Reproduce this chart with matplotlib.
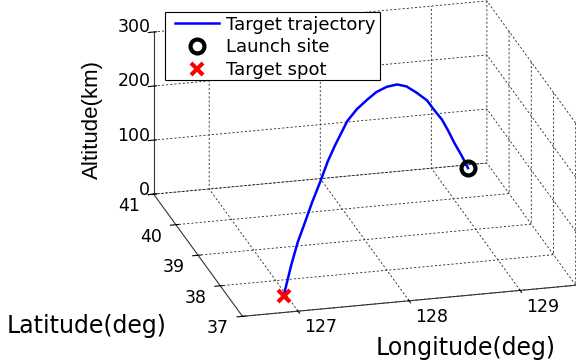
import matplotlib
matplotlib.use("Agg")
import matplotlib.pyplot as plt
from matplotlib.patches import Rectangle
from mpl_toolkits.mplot3d import Axes3D, proj3d

plt.rcParams['font.family'] = ['DejaVu Sans']
plt.rcParams['grid.color'] = '#222222'
plt.rcParams['grid.linestyle'] = (0, (2.5, 2.5))
plt.rcParams['grid.linewidth'] = 0.6

# trajectory samples: longitude (deg), latitude (deg), altitude (km)
traj_lon = [129.31, 129.23, 129.14, 129.06, 128.98, 128.87, 128.79, 128.66, 128.53, 128.41,
            128.28, 128.15, 128.03, 127.90, 127.78, 127.71, 127.62, 127.53, 127.43, 127.33,
            127.24, 127.15, 127.07, 126.97]
traj_lat = [40.90, 40.79, 40.66, 40.53, 40.42, 40.25, 40.14, 39.96, 39.77, 39.59,
            39.40, 39.22, 39.03, 38.85, 38.68, 38.57, 38.44, 38.31, 38.17, 38.02,
            37.89, 37.76, 37.65, 37.50]
traj_alt = [0, 31, 63, 94, 123, 154, 178, 205, 230, 246,
            255, 258, 257, 252, 242, 230, 213, 193, 163, 137,
            109, 82, 48, 0]

launch_site = (129.31, 40.90, 0)
target_spot = (126.97, 37.50, 0)

lon_lim = (126.5, 129.5)
lat_lim = (37, 41)
alt_lim = (0, 300)
lon_ticks = [127, 128, 129]
lat_ticks = [37, 38, 39, 40, 41]
alt_ticks = [0, 100, 200, 300]

fig = plt.figure(figsize=(5.76, 3.63), dpi=100)
ax = fig.add_axes([0.1246, 0.0495, 1.0, 1.0], projection='3d', proj_type='ortho')

h_traj, = ax.plot(traj_lon, traj_lat, traj_alt, color='#0000ff', lw=1.8)
h_launch, = ax.plot([launch_site[0]], [launch_site[1]], [launch_site[2]], 'o', mfc='none',
                    mec='k', mew=3, ms=10)
h_target, = ax.plot([target_spot[0]], [target_spot[1]], [target_spot[2]], 'x', color='#ff0000',
                    mew=3, ms=9)

ax.set_xlim(*lon_lim)
ax.set_ylim(*lat_lim)
ax.set_zlim(*alt_lim)
ax.set_xticks(lon_ticks)
ax.set_yticks(lat_ticks)
ax.set_zticks(alt_ticks)

ax.view_init(elev=21, azim=-104.6)
ax.set_box_aspect((345, 353, 174), zoom=1.397)

for axis in (ax.xaxis, ax.yaxis, ax.zaxis):
    axis.set_pane_color((1, 1, 1, 0))
    axis.pane.set_edgecolor('none')
    axis.line.set_color('#333333')
    axis.line.set_linewidth(0.8)
    axis.set_tick_params(label1On=False, label2On=False)


def tick_text(x, y, z, s, **kw):
    # project the 3D anchor and put a flat label there
    px, py, _ = proj3d.proj_transform(x, y, z, ax.get_proj())
    ax.text2D(px, py, s, transform=ax.transData, fontsize=12.5, **kw)


# tick labels placed MATLAB-style next to the box edges
for v in lon_ticks:
    tick_text(v + 0.09, lat_lim[0] - 0.56, alt_lim[0], str(v), ha='center', va='center')
for v in lat_ticks:
    tick_text(lon_lim[0] - 0.28, v - 0.3, alt_lim[0], str(v), ha='center', va='center')
for v in alt_ticks:
    tick_text(lon_lim[0], lat_lim[1] + 0.15, v, str(v), ha='right', va='center')

fig.text(0.151, 0.102, 'Latitude(deg)', fontsize=17, ha='center', va='center')
fig.text(0.809, 0.041, 'Longitude(deg)', fontsize=17, ha='center', va='center')
fig.text(0.161, 0.672, 'Altitude(km)', fontsize=16, ha='center', va='center', rotation=90,
         family='Liberation Sans')

# legend box drawn separately so the padding can differ per direction
fig.patches.append(Rectangle((0.2865, 0.7796), 0.3733, 0.1873, transform=fig.transFigure,
                             facecolor='white', edgecolor='k', lw=0.8, zorder=5))
leg = fig.legend([h_traj, h_launch, h_target], ['Target trajectory', 'Launch site', 'Target spot'],
                 loc='upper left', bbox_to_anchor=(0.3038, 0.957), bbox_transform=fig.transFigure,
                 fontsize=13, frameon=False, borderpad=0, labelspacing=0.27,
                 handlelength=2.44, handletextpad=0.39, borderaxespad=0)
leg.set_zorder(6)

fig.savefig('out.png', dpi=100)
